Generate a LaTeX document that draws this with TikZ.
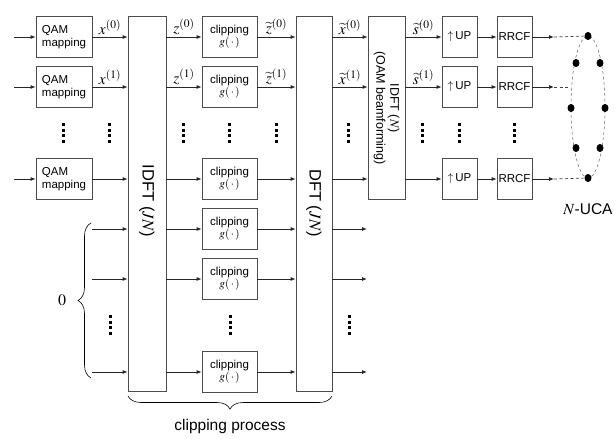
\documentclass[tikz,border=0pt]{standalone}
\usepackage{amsmath}
\usepackage{mathptmx}
\usepackage[no-math]{fontspec}
\setmainfont{Liberation Sans}
\usetikzlibrary{arrows.meta,decorations.pathreplacing,calc,shapes.geometric}
% column of four small square dots
\newcommand{\dotcol}[2]{\foreach \k in {0,1,2,3}{\fill ({#1-1.5},{#2-10+5.7*\k}) rectangle ++(3,3);}}

\begin{document}
\begin{tikzpicture}[x=1pt,y=-1pt,line width=0.8pt,>={Latex[length=5pt,width=4pt]},
  blk/.style={draw=black!70,fill=white,minimum height=41pt,inner sep=1pt,
              font=\fontsize{11.5}{12.5}\selectfont},
  qambox/.style={blk,minimum width=56pt,align=left},
  clipbox/.style={blk,minimum width=55pt,align=center},
  smallbox/.style={blk,minimum width=35pt},
  bigbox/.style={draw=black!70,fill=white,minimum height=375pt},
  vlab/.style={rotate=-90,align=center},
  sig/.style={->,black!85},
  lab/.style={above=1.5pt,inner sep=0.5pt,font=\fontsize{15.5}{16}\selectfont},
  antdot/.style={ellipse,fill=black,inner sep=0pt,minimum width=7pt,minimum height=8pt},
  feed/.style={dash pattern=on 3pt off 2.5pt,black!75,line width=0.7pt}]
\useasboundingbox (0,0) rectangle (616,439);

% transforms
\node[bigbox,minimum width=38pt] (idft) at (147,203.5) {};
\node[vlab,font=\fontsize{16.5}{18}\selectfont] (idftlab) at (147,201) {IDFT ($JN$)};
\node[bigbox,minimum width=36pt] (dft) at (314,203.5) {};
\node[vlab,font=\fontsize{16.5}{18}\selectfont] (dftlab) at (314,203) {DFT ($JN$)};
\node[draw=black!70,fill=white,minimum width=37pt,minimum height=183pt] (ibf) at (386.5,107.5) {};
\node[vlab,font=\fontsize{12.5}{14}\selectfont] (ibflab) at (386.5,108) {IDFT ($N$)\\(OAM beamforming)};

% data branches
\foreach \i/\y in {0/37,1/87,2/179}{
  \coordinate (in\i) at (14,\y);
  \node[qambox] (qam\i) at (64,\y) {QAM\\mapping};
  \draw[sig] (in\i) -- (qam\i);
  \draw[sig] (qam\i) -- (qam\i -| idft.west) coordinate[midway] (xm\i);
  \node[smallbox] (up\i) at (459.5,\y) {$\uparrow$\,UP};
  \node[smallbox] (rrcf\i) at (514.5,\y) {RRCF};
  \coordinate (ant\i) at (554,\y);
  \draw[sig] (up\i -| dft.east) -- (up\i -| ibf.west) coordinate[midway] (xt\i);
  \draw[sig] (up\i -| ibf.east) -- (up\i) coordinate[midway] (st\i);
  \draw[sig] (up\i) -- (rrcf\i);
  \draw[sig] (rrcf\i) -- (ant\i);
}
\foreach \i in {0,1}{
  \node[lab] at (xm\i) {$x^{(\i)}$};
  \node[lab] at (xt\i) {$\widetilde{x}^{(\i)}$};
  \node[lab] at (st\i) {$\widetilde{s}^{(\i)}$};
}

% zero padding
\foreach \j/\y in {0/229,1/279,2/372}{
  \coordinate (zin\j) at (92,\y);
  \draw[sig] (zin\j) -- (zin\j -| idft.west);
  \coordinate (dout\j) at (367,\y);
  \draw[sig] (dout\j -| dft.east) -- (dout\j);
}
\coordinate (brb) at (91,378);
\coordinate (brt) at (91,223);
\draw[decorate,decoration={brace,amplitude=13pt},line width=0.6pt] (brb) -- (brt)
  node[midway,xshift=-29pt,font=\fontsize{16}{17}\selectfont] (zero) {$0$};

% clipping
\foreach \i/\y in {0/37,1/87,2/179,3/229,4/279,5/372}{
  \node[clipbox] (clip\i) at (229.5,\y) {clipping\\$g(\,\boldsymbol{\cdot}\,)$};
  \draw[sig] (clip\i -| idft.east) -- (clip\i) coordinate[midway] (zm\i);
  \draw[sig] (clip\i) -- (clip\i -| dft.west) coordinate[midway] (zt\i);
}
\foreach \i in {0,1}{
  \node[lab] at (zm\i) {$z^{(\i)}$};
  \node[lab] at (zt\i) {$\widetilde{z}^{(\i)}$};
}
\coordinate (cpr) at (332,396);
\coordinate (cpl) at (128,396);
\draw[decorate,decoration={brace,amplitude=13pt},line width=0.6pt] (cpr) -- (cpl)
  node[midway,yshift=-30pt,font=\fontsize{15.5}{17}\selectfont] (cplab) {clipping process};

% vertical dots
\foreach \x in {63,109,183,229,276,348,422,459,514}{\dotcol{\x}{133}}
\foreach \x in {110,230,349}{\dotcol{\x}{325}}

% uniform circular array
\draw[feed,line width=0.5pt,black!60] (588,107) ellipse [x radius=17pt,y radius=71pt];
\foreach \n/\px/\py in {1/588/36,2/576/63,3/600/63,4/571/108,5/605/108,6/576/148,7/600/148,8/588/178}
  \node[antdot] (d\n) at (\px,\py) {};
\coordinate (edge1) at (568,87);
\draw[feed] (ant0) -- (d1);
\draw[feed] (ant1) -- (edge1);
\draw[feed] (ant2) -- (d8);
\node[font=\fontsize{15.5}{16}\selectfont] (ucalab) at (588,209) {$N$-UCA};
\end{tikzpicture}
\end{document}
